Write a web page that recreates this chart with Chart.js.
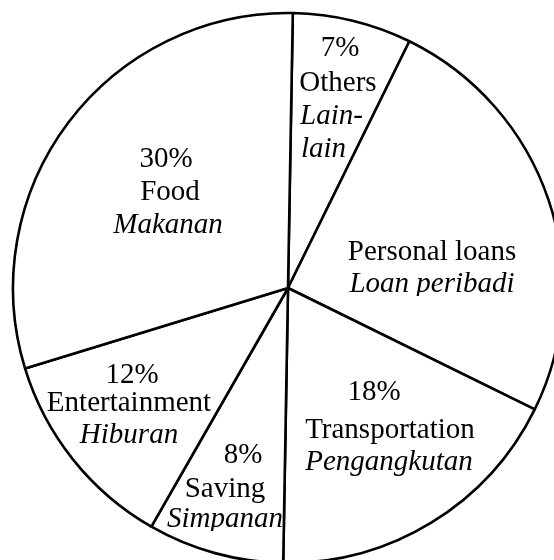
<!DOCTYPE html>
<html>
<head>
<meta charset="utf-8">
<script src="https://cdn.jsdelivr.net/npm/chart.js@4/dist/chart.umd.min.js"></script>
<style>
  html, body { margin: 0; padding: 0; background: #fff; overflow: hidden; width: 554px; height: 560px; }
  #wrap { position: absolute; left: 0; top: 0; width: 554px; height: 560px; overflow: hidden; }
  canvas { position: absolute; left: 0; top: 0; }
</style>
</head>
<body>
<div id="wrap"><canvas id="c" width="576" height="576"></canvas></div>
<script>
// ---- data ----
const categories = ['Others', 'Personal loans', 'Transportation', 'Saving', 'Entertainment', 'Food'];
const malayNames = ['Lain-lain', 'Loan peribadi', 'Pengangkutan', 'Simpanan', 'Hiburan', 'Makanan'];
const values = [7, 25, 18, 8, 12, 30];
const showPercent = [true, false, true, true, true, true];

// ---- label layout (offsets from pie centre, px at radius 275) ----
const labelLayout = [
  { lines: [ {t:'pct', x:52, y:-232}, {t:'en', x:50, y:-197},
             {t:'raw', text:'Lain-', italic:true, x:12, y:-164, align:'left'},
             {t:'raw', text:'lain', italic:true, x:13, y:-131, align:'left'} ] },
  { lines: [ {t:'en', x:144, y:-28}, {t:'my', x:144, y:4} ], clipBottom: 8 },
  { lines: [ {t:'pct', x:86, y:112}, {t:'en', x:102, y:150}, {t:'my', x:101, y:182} ] },
  { lines: [ {t:'pct', x:-45, y:175}, {t:'en', x:-63, y:209}, {t:'my', x:-63, y:239} ], clipBottom: 243 },
  { lines: [ {t:'pct', x:-156, y:95}, {t:'en', x:-159, y:123}, {t:'my', x:-159, y:155} ] },
  { lines: [ {t:'pct', x:-122, y:-121}, {t:'en', x:-118, y:-88}, {t:'my', x:-120, y:-55} ] }
];

const sliceLabels = {
  id: 'sliceLabels',
  afterDatasetsDraw(chart) {
    const ctx = chart.ctx;
    const arcs = chart.getDatasetMeta(0).data;
    arcs.forEach((arc, i) => {
      const cx = arc.x, cy = arc.y, s = arc.outerRadius / 275;
      const L = labelLayout[i];
      ctx.save();
      if (L.clipBottom !== undefined) {
        ctx.beginPath();
        ctx.rect(0, 0, chart.width, cy + L.clipBottom * s);
        ctx.clip();
      }
      ctx.fillStyle = '#000';
      ctx.textBaseline = 'alphabetic';
      L.lines.forEach(ln => {
        let text, italic = false;
        if (ln.t === 'pct') { if (!showPercent[i]) return; text = values[i] + '%'; }
        else if (ln.t === 'en') text = categories[i];
        else if (ln.t === 'my') { text = malayNames[i]; italic = true; }
        else { text = ln.text; italic = !!ln.italic; }
        ctx.font = (italic ? 'italic ' : '') + '29px "Liberation Serif", "Times New Roman", serif';
        ctx.textAlign = ln.align || 'center';
        ctx.fillText(text, cx + ln.x * s, cy + ln.y * s);
      });
      ctx.restore();
    });
  }
};

new Chart(document.getElementById('c'), {
  type: 'pie',
  data: {
    labels: categories,
    datasets: [{
      data: values,
      backgroundColor: '#ffffff',
      borderColor: '#000000',
      borderWidth: 2.6,
      radius: 275
    }]
  },
  options: {
    responsive: false,
    animation: false,
    rotation: 1.0,
    layout: { padding: 13 },
    plugins: { legend: { display: false }, tooltip: { enabled: false } }
  },
  plugins: [sliceLabels]
});
</script>
</body>
</html>
